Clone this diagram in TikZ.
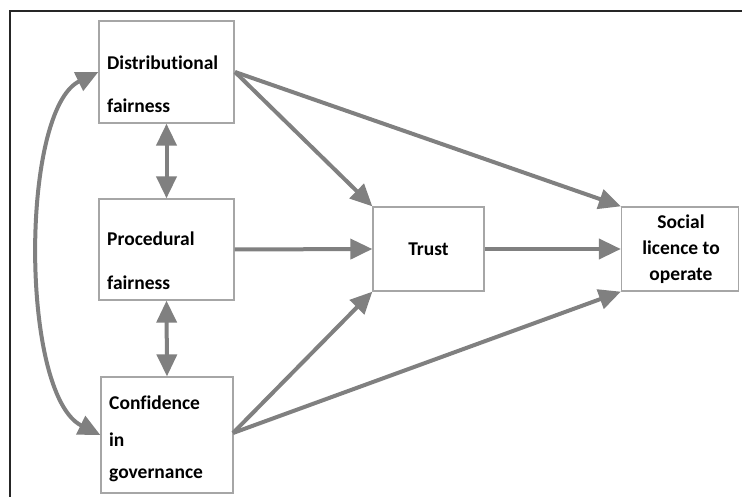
\documentclass[tikz,border=0pt]{standalone}
\usepackage{fontspec}
\setmainfont[Ligatures={NoCommon}]{Carlito}
\usetikzlibrary{arrows.meta}
\definecolor{arrowgray}{HTML}{808080}
\definecolor{boxgray}{HTML}{A6A6A6}
\begin{document}
\begin{tikzpicture}[x=1pt,y=-1pt,
  box/.style={draw=boxgray,line width=1.3pt,minimum width=#1,inner sep=0pt},
  lbl/.style={font=\fontsize{19.5}{24}\selectfont\bfseries,inner sep=0pt},
  conn/.style={draw=arrowgray,line width=4pt,-{Triangle[length=22pt,width=20pt]}},
  dconn/.style={draw=arrowgray,line width=4pt,{Triangle[length=22pt,width=20pt]}-{Triangle[length=22pt,width=20pt]}}]
\useasboundingbox (0,0) rectangle (742,497);
% outer frame (top and left visible)
\draw[line width=2.5pt,black!85] (10,520) -- (10,11) -- (760,11);
% boxes
\node[box=135pt,minimum height=102pt] (dist) at (166.5,72) {};
\node[box=135pt,minimum height=101pt] (proc) at (166.5,249.5) {};
\node[box=132pt,minimum height=116pt] (conf) at (167,435) {};
\node[box=111pt,minimum height=84pt] (trust) at (428.5,249) {};
\node[box=117pt,minimum height=84pt] (slo) at (680,249) {};
% labels
\node[lbl,anchor=west] (t1) at (107,63) {Distributional};
\node[lbl,anchor=west] (t2) at (107,106) {fairness};
\node[lbl,anchor=west] (t3) at (107,239) {Procedural};
\node[lbl,anchor=west] (t4) at (107,283) {fairness};
\node[lbl,anchor=west] (t5) at (109,403) {Confidence};
\node[lbl,anchor=west] (t6) at (109,440) {in};
\node[lbl,anchor=west] (t7) at (109,475) {governance};
\node[lbl] (t8) at (trust.center) {Trust};
\node[lbl,align=center,font=\fontsize{19.5}{26}\selectfont\bfseries] (t9) at (681,249) {Social\\licence to\\operate};
% coordinates
\coordinate (dOut) at (235,72);
\coordinate (cOut) at (233,433);
% arrows
\draw[conn] (dOut) -- (trust.north west);
\draw[conn] (dOut) -- (slo.north west);
\draw[conn] (proc.east) -- (trust.west);
\draw[conn] (trust.east) -- (slo.west);
\draw[conn] (cOut) -- (trust.south west);
\draw[conn] (cOut) -- (slo.south west);
\draw[dconn] (dist.south) -- (proc.north);
\draw[dconn] (proc.south) -- (conf.north);
\draw[dconn] (dist.west |- dOut) .. controls (20,110) and (20,395) .. (conf.west);
\end{tikzpicture}
\end{document}
